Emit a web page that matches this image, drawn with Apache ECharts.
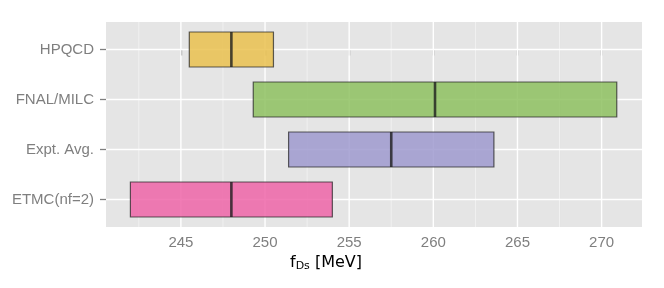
<!DOCTYPE html>
<html><head><meta charset="utf-8">
<script src="https://cdn.jsdelivr.net/npm/echarts@6/dist/echarts.min.js"></script>
<style>html,body{margin:0;padding:0;background:#fff}#c{width:664px;height:288px}</style>
</head><body><div id="c"></div>
<script>
const categories = ['HPQCD', 'FNAL/MILC', 'Expt. Avg.', 'ETMC(nf=2)'];
const lowValues  = [245.5, 249.3, 251.4, 242.0];
const midValues  = [248.0, 260.1, 257.5, 248.0];
const highValues = [250.5, 270.9, 263.6, 254.0];
const xTicks = [245, 250, 255, 260, 265, 270];
const xMinorTicks = [242.5, 247.5, 252.5, 257.5, 262.5, 267.5];
const boxColors = ['rgba(233,190,72,0.82)', 'rgba(138,190,90,0.82)', 'rgba(155,150,205,0.82)', 'rgba(238,95,165,0.82)'];

const X_MIN = 240.55, X_MAX = 272.4, Y_MIN = -0.55, Y_MAX = 3.55;
const yIdx = categories.map((_, i) => i);

const chart = echarts.init(document.getElementById('c'), null, {renderer: 'canvas'});

const gridData = [];
xMinorTicks.forEach(v => gridData.push([v, 0, 0]));
xTicks.forEach(v => gridData.push([v, 0, 1]));
yIdx.forEach(i => gridData.push([X_MIN, i, 2]));

const boxData = categories.map((c, i) => [lowValues[i], midValues[i], highValues[i], i]);

chart.setOption({
  animation: false,
  grid: {left: 106, right: 22, top: 22, bottom: 61, show: true, backgroundColor: '#E5E5E5', borderWidth: 0},
  xAxis: {
    type: 'value', min: X_MIN, max: X_MAX,
    axisLine: {show: false},
    axisTick: {show: true, customValues: xTicks, length: 6, lineStyle: {color: '#7F7F7F', width: 1.3}},
    axisLabel: {customValues: xTicks, color: '#7F7F7F', fontSize: 15, fontFamily: 'Liberation Sans', margin: 8},
    splitLine: {show: false},
    name: '{f|f}{s|Ds}{t| [MeV]}',
    nameLocation: 'middle', nameGap: 25,
    nameTextStyle: {
      padding: [0, 96, 0, 0],
      rich: {
        f: {fontSize: 16, fontFamily: 'DejaVu Sans', color: '#000', lineHeight: 18},
        s: {fontSize: 11, fontFamily: 'DejaVu Sans', color: '#000', lineHeight: 9, verticalAlign: 'bottom'},
        t: {fontSize: 16, fontFamily: 'DejaVu Sans', color: '#000', lineHeight: 18}
      }
    }
  },
  yAxis: {
    type: 'value', min: Y_MIN, max: Y_MAX, inverse: true,
    axisLine: {show: false},
    axisTick: {show: true, customValues: yIdx, length: 6, lineStyle: {color: '#7F7F7F', width: 1.3}},
    axisLabel: {customValues: yIdx, formatter: v => categories[Math.round(v)] || '', color: '#7F7F7F', fontSize: 15, fontFamily: 'Liberation Sans', margin: 12},
    splitLine: {show: false}
  },
  series: [
    {
      type: 'custom', silent: true, z: 1,
      data: gridData, encode: {x: 0, y: 1},
      renderItem: function (params, api) {
        const cs = params.coordSys;
        const kind = api.value(2);
        if (kind === 2) {
          const p = api.coord([X_MIN, api.value(1)]);
          return {type: 'line', shape: {x1: cs.x, y1: p[1], x2: cs.x + cs.width, y2: p[1]},
                  style: {stroke: '#FFFFFF', lineWidth: 1.4}};
        }
        const p = api.coord([api.value(0), 0]);
        return {type: 'line', shape: {x1: p[0], y1: cs.y, x2: p[0], y2: cs.y + cs.height},
                style: {stroke: kind === 1 ? '#FFFFFF' : '#F2F2F2', lineWidth: kind === 1 ? 1.4 : 0.9}};
      }
    },
    {
      type: 'custom', silent: true, z: 2,
      data: boxData, encode: {x: [0, 1, 2], y: 3},
      renderItem: function (params, api) {
        const i = api.value(3);
        const lo = api.coord([api.value(0), i]);
        const md = api.coord([api.value(1), i]);
        const hi = api.coord([api.value(2), i]);
        const h = api.size([0, 0.7])[1];
        return {type: 'group', children: [
          {type: 'rect', shape: {x: lo[0], y: lo[1] - h / 2, width: hi[0] - lo[0], height: h},
           style: {fill: boxColors[i], stroke: 'rgba(35,35,35,0.72)', lineWidth: 1.2}},
          {type: 'line', shape: {x1: md[0], y1: md[1] - h / 2, x2: md[0], y2: md[1] + h / 2},
           style: {stroke: 'rgba(30,30,30,0.8)', lineWidth: 2.6}}
        ]};
      }
    }
  ]
});
</script></body></html>
